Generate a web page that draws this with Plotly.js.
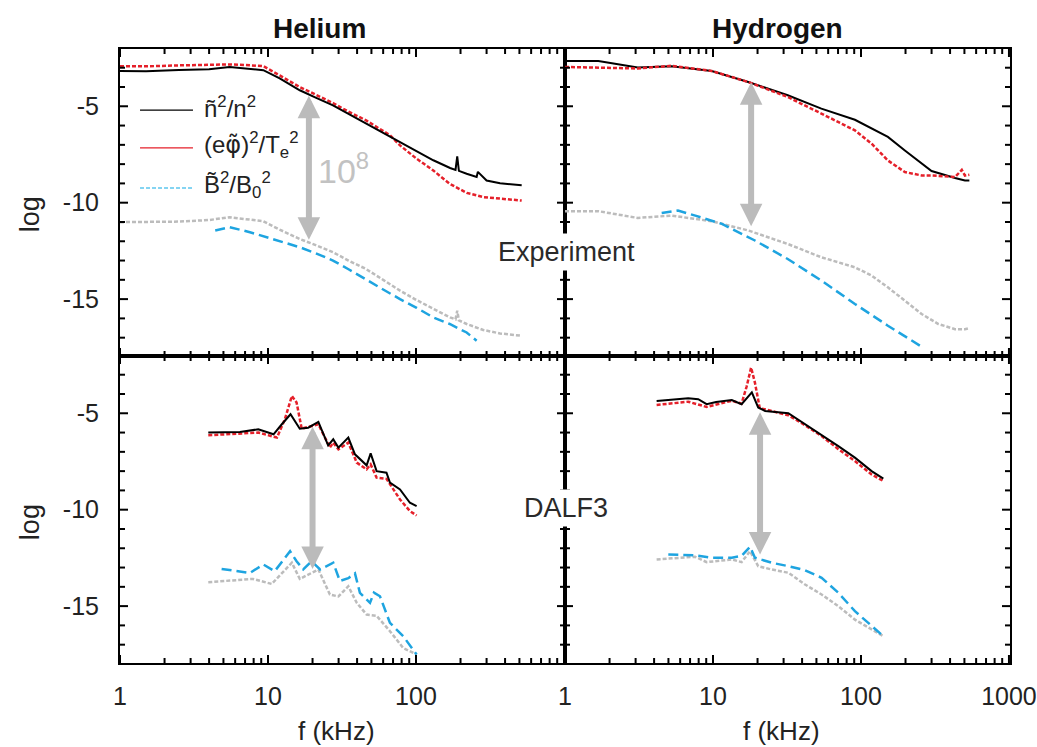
<!DOCTYPE html>
<html>
<head>
<meta charset="utf-8">
<script src="https://cdn.plot.ly/plotly-3.0.1.min.js"></script>
<style>html,body{margin:0;padding:0;background:#fff;}#chart{width:1037px;height:747px;}</style>
</head>
<body>
<div id="chart"></div>
<script>
// ---------------- DATA (log10 of normalized spectra vs f in kHz) ----------------
// Helium, Experiment
const heExpF_n   = [1, 1.5, 2.5, 4, 5.5, 7, 9.3, 12, 16.4, 21, 27.5, 35, 46, 60, 78, 100, 131, 170, 185, 190, 195, 220, 257, 262, 300, 370, 450, 518];
const heExpN     = [-3.17, -3.18, -3.12, -3.08, -2.96, -3.05, -3.13, -3.55, -4.17, -4.55, -4.95, -5.4, -5.9, -6.35, -6.85, -7.3, -7.8, -8.2, -8.3, -7.6, -8.35, -8.5, -8.67, -8.4, -8.85, -8.99, -9.05, -9.1];
const heExpF_phi = [1, 1.5, 2.5, 4, 5.5, 7, 9.3, 12, 16.4, 21, 27.5, 35, 46, 66.7, 78, 101, 131, 169, 220, 285, 370, 518];
const heExpPhi   = [-2.92, -2.93, -2.88, -2.86, -2.83, -2.86, -2.92, -3.4, -4.0, -4.4, -4.83, -5.28, -5.73, -6.5, -7.03, -7.72, -8.33, -9.02, -9.49, -9.71, -9.8, -9.89];
const heExpF_g   = [1, 2.5, 4, 5.5, 7, 9.3, 12, 16.4, 21, 27.5, 35, 46, 60, 78, 101, 131, 170, 185, 190, 195, 220, 285, 370, 518];
const heExpGray  = [-11.01, -10.98, -10.9, -10.75, -10.85, -10.96, -11.4, -11.88, -12.2, -12.57, -13.0, -13.44, -14.0, -14.56, -15.05, -15.51, -15.95, -16.05, -15.6, -16.1, -16.29, -16.6, -16.78, -16.9];
const heExpF_B   = [4.4, 5.5, 7.55, 9.8, 12.5, 16.4, 21, 27.5, 35, 46, 60, 78, 101, 131, 169, 220, 257];
const heExpB     = [-11.44, -11.27, -11.53, -11.79, -12.05, -12.31, -12.62, -13.0, -13.45, -13.96, -14.5, -15.0, -15.45, -15.95, -16.29, -16.73, -17.16];

// Hydrogen, Experiment
const hyExpF_n   = [1, 1.68, 3.1, 5.25, 9.8, 17.3, 32, 54, 91, 118, 152, 198, 257, 300, 432, 504, 540];
const hyExpN     = [-2.65, -2.65, -2.99, -2.92, -3.17, -3.74, -4.43, -5.12, -5.7, -6.16, -6.59, -7.29, -7.98, -8.36, -8.72, -8.85, -8.85];
const hyExpF_phi = [1, 1.68, 3.1, 5.25, 9.8, 17.3, 32, 54, 91, 118, 152, 198, 257, 300, 432, 480, 504, 540];
const hyExpPhi   = [-2.96, -2.99, -3.04, -2.9, -3.17, -3.74, -4.52, -5.38, -6.25, -6.94, -7.81, -8.41, -8.59, -8.59, -8.67, -8.3, -8.59, -8.55];
const hyExpF_g   = [1, 1.68, 3.1, 5.25, 9.8, 17.3, 32, 54, 91, 118, 152, 198, 257, 333, 432, 504, 540];
const hyExpGray  = [-10.44, -10.44, -10.79, -10.67, -10.96, -11.44, -12.14, -12.83, -13.35, -13.78, -14.39, -15.08, -15.77, -16.29, -16.56, -16.56, -16.5];
const hyExpF_B   = [4.5, 5.8, 7.6, 11.5, 19.2, 32, 54, 91, 152, 251];
const hyExpB     = [-10.54, -10.41, -10.67, -11.1, -11.96, -12.92, -14.04, -15.25, -16.38, -17.42];

// Helium, DALF3
const heSimF_n   = [3.95, 6.46, 8.6, 10.9, 12.4, 14.2, 16.4, 18.7, 21.9, 25.5, 27.6, 29.9, 34.9, 38.7, 46.4, 49.4, 54.2, 63.2, 66.7, 78, 91, 101];
const heSimN     = [-6.0, -5.97, -5.83, -6.09, -5.57, -5.05, -5.8, -5.75, -5.45, -6.66, -6.35, -6.78, -6.26, -7.13, -7.7, -7.08, -8.0, -8.08, -8.6, -8.95, -9.64, -9.81];
const heSimF_phi = [3.95, 6.46, 8.6, 11.5, 13.0, 14.5, 15.6, 16.9, 18.7, 21.9, 26.2, 27.6, 29.9, 34.9, 39.8, 46.4, 49.4, 54.2, 63.2, 78, 91, 101];
const heSimPhi   = [-6.14, -6.06, -6.0, -6.26, -5.31, -4.1, -4.44, -5.8, -5.7, -5.57, -6.78, -6.52, -6.87, -6.52, -7.56, -7.91, -7.65, -8.34, -8.4, -9.47, -10.07, -10.3];
const heSimF_B   = [4.86, 7.55, 9.3, 11.1, 14.1, 15.6, 17.3, 19.7, 22.5, 27.6, 30.6, 34.9, 38.7, 41.8, 48.9, 52, 57.1, 66.7, 82, 101];
const heSimB     = [-13.07, -13.28, -12.84, -13.19, -12.15, -12.67, -13.1, -12.67, -13.1, -12.75, -13.7, -13.55, -13.3, -14.31, -14.83, -14.3, -14.49, -15.87, -16.56, -17.51];
const heSimF_g   = [3.95, 7.9, 10.6, 14.5, 16.4, 21.9, 26.2, 29.9, 34.9, 39.8, 46.4, 54.2, 66.7, 82, 101];
const heSimGray  = [-13.76, -13.59, -13.85, -12.75, -13.59, -13.1, -14.4, -14.5, -13.97, -14.83, -15.44, -15.5, -16.3, -17.17, -17.51];

// Hydrogen, DALF3
const hySimF_n   = [4.16, 6.8, 7.95, 9.06, 10.5, 13.4, 15.6, 18.3, 20.2, 22.5, 32.3, 41.9, 54.2, 70.3, 91, 118, 141.6];
const hySimN     = [-4.36, -4.22, -4.27, -4.53, -4.42, -4.31, -4.53, -3.92, -4.7, -4.88, -5.0, -5.57, -6.09, -6.7, -7.3, -8.0, -8.39];
const hySimF_phi = [4.16, 6.8, 9.06, 13.4, 15.6, 16.9, 18.1, 19.2, 20.7, 32.3, 41.9, 54.2, 70.3, 91, 118, 141.6];
const hySimPhi   = [-4.57, -4.4, -4.67, -4.35, -4.5, -3.6, -2.63, -3.41, -4.73, -5.1, -5.62, -6.18, -6.86, -7.48, -8.17, -8.51];
const hySimF_B   = [4.99, 7.56, 9.8, 13.4, 15.6, 17.8, 19.2, 24.9, 32.3, 41.9, 54.2, 70.3, 91, 118, 141.6];
const hySimB     = [-12.32, -12.37, -12.49, -12.49, -12.4, -11.92, -12.49, -12.75, -12.93, -13.14, -13.53, -14.31, -15.26, -16.04, -16.56];
const hySimF_g   = [4.16, 7.56, 9.06, 13.4, 15.6, 17.8, 20.2, 24.9, 32.3, 41.9, 54.2, 70.3, 91, 118, 141.6];
const hySimGray  = [-12.58, -12.44, -12.72, -12.58, -12.72, -12.15, -12.93, -13.1, -13.27, -13.88, -14.4, -15.0, -15.7, -16.21, -16.56];

// Tick labels and texts
const xTickValsLeft  = [1, 10, 100];
const xTickValsRight = [1, 10, 100, 1000];
const yTickVals = [-5, -10, -15];
const yTickText = ['-5', '-10', '-15'];
const yMinorVals = [-3, -4, -6, -7, -8, -9, -11, -12, -13, -14, -16, -17];
const panelTitles = ['Helium', 'Hydrogen'];
const rowLabels = ['Experiment', 'DALF3'];
const legendLabels = [
  'ñ<sup>2</sup>/n<sup>2</sup>',
  '(e<span style="font-family:DejaVu Sans">φ̃</span>)<sup>2</sup>/T<sub>e</sub><sup>2</sup>',
  'B̃<sup>2</sup>/B<sub>0</sub><sup>2</sup>'
];
// double-arrow positions (f in kHz, top tip, bottom tip) for each panel
const arrows = [
  {xa: 'x',  ya: 'y',  f: 18.9, top: -4.45, bot: -12.0},
  {xa: 'x2', ya: 'y2', f: 18.1, top: -3.75, bot: -11.3},
  {xa: 'x3', ya: 'y3', f: 20.0, top: -5.7,  bot: -13.15},
  {xa: 'x4', ya: 'y4', f: 20.8, top: -4.95, bot: -12.4}
];

// ---------------- STYLES ----------------
const C_BLACK = '#000000', C_RED = '#e5202a', C_GRAY = '#bcbcbc', C_BLUE = '#1ea4e0';
const FONT = 'Liberation Sans, Arial, Helvetica, sans-serif';
const XMAX = 3.007, YMIN = -17.95, YMAX = -2.03;
const PANEL_W = 445, PANEL_H = 307; // pixel size of each panel (for tick lengths)

function tr(x, y, xa, ya, color, dash, width) {
  return {x: x, y: y, xaxis: xa, yaxis: ya, type: 'scatter', mode: 'lines', showlegend: false,
          hoverinfo: 'skip', line: {color: color, dash: dash, width: width, shape: 'linear'}};
}
const DOT = '4px,2px', DASH = '10px,5px';
const traces = [
  tr(heExpF_g, heExpGray, 'x', 'y', C_GRAY, DOT, 2.5),
  tr(heExpF_B, heExpB, 'x', 'y', C_BLUE, DASH, 2.5),
  tr(heExpF_phi, heExpPhi, 'x', 'y', C_RED, DOT, 2.5),
  tr(heExpF_n, heExpN, 'x', 'y', C_BLACK, 'solid', 2),

  tr(hyExpF_g, hyExpGray, 'x2', 'y2', C_GRAY, DOT, 2.5),
  tr(hyExpF_B, hyExpB, 'x2', 'y2', C_BLUE, DASH, 2.5),
  tr(hyExpF_n, hyExpN, 'x2', 'y2', C_BLACK, 'solid', 2),
  tr(hyExpF_phi, hyExpPhi, 'x2', 'y2', C_RED, DOT, 2.5),

  tr(heSimF_g, heSimGray, 'x3', 'y3', C_GRAY, DOT, 2.5),
  tr(heSimF_B, heSimB, 'x3', 'y3', C_BLUE, DASH, 2.5),
  tr(heSimF_phi, heSimPhi, 'x3', 'y3', C_RED, DOT, 2.5),
  tr(heSimF_n, heSimN, 'x3', 'y3', C_BLACK, 'solid', 2),

  tr(hySimF_g, hySimGray, 'x4', 'y4', C_GRAY, DOT, 2.5),
  tr(hySimF_B, hySimB, 'x4', 'y4', C_BLUE, DASH, 2.5),
  tr(hySimF_phi, hySimPhi, 'x4', 'y4', C_RED, DOT, 2.5),
  tr(hySimF_n, hySimN, 'x4', 'y4', C_BLACK, 'solid', 2)
];

const minorVals = [];
[1, 10, 100].forEach(function (d) { for (let k = 2; k <= 9; k++) minorVals.push(k * d); });

// inside tick marks on all four sides of each panel, as line segments built from the tick arrays
function tickTrace(xa, ya, xMajor) {
  const xs = [], ys = [];
  const yPerPx = (YMAX - YMIN) / PANEL_H, xPerPx = XMAX / PANEL_W;
  function xTick(v, len) {
    xs.push(v, v, null, v, v, null);
    ys.push(YMIN, YMIN + len * yPerPx, null, YMAX, YMAX - len * yPerPx, null);
  }
  function yTick(v, len) {
    xs.push(1, Math.pow(10, len * xPerPx), null, Math.pow(10, XMAX), Math.pow(10, XMAX - len * xPerPx), null);
    ys.push(v, v, null, v, v, null);
  }
  xMajor.forEach(function (v) { xTick(v, 8); });
  minorVals.forEach(function (v) { xTick(v, 5); });
  yTickVals.forEach(function (v) { yTick(v, 8); });
  yMinorVals.forEach(function (v) { yTick(v, 5); });
  return {x: xs, y: ys, xaxis: xa, yaxis: ya, type: 'scatter', mode: 'lines', showlegend: false, hoverinfo: 'skip',
          connectgaps: false, cliponaxis: false, line: {color: '#000', width: 2}};
}
traces.push(tickTrace('x', 'y', xTickValsLeft));
traces.push(tickTrace('x2', 'y2', xTickValsRight));
traces.push(tickTrace('x3', 'y3', xTickValsLeft));
traces.push(tickTrace('x4', 'y4', xTickValsRight));

function xax(domain, anchor, labels, tickvals) {
  return {type: 'log', domain: domain, anchor: anchor, range: [0, XMAX],
    showline: true, linecolor: '#000', linewidth: 2, mirror: true,
    ticks: '', tickmode: 'array', tickvals: tickvals, ticktext: tickvals.map(String),
    showticklabels: labels, ticklabelstandoff: 10,
    tickfont: {family: FONT, size: 25, color: '#222'},
    showgrid: false, zeroline: false};
}
function yax(domain, anchor, labels) {
  return {domain: domain, anchor: anchor, range: [YMIN, YMAX],
    showline: true, linecolor: '#000', linewidth: 2, mirror: true,
    ticks: '', tickmode: 'array', tickvals: yTickVals, ticktext: yTickText,
    showticklabels: labels, ticklabelstandoff: 14,
    tickfont: {family: FONT, size: 25, color: '#222'},
    showgrid: false, zeroline: false};
}

const shapes = [];
const annotations = [];
// panel titles
annotations.push({text: '<b>' + panelTitles[0] + '</b>', xref: 'paper', yref: 'paper', x: 0.2247, y: 1.034, showarrow: false,
  xanchor: 'center', yanchor: 'middle', font: {family: FONT, size: 28, color: '#111'}});
annotations.push({text: '<b>' + panelTitles[1] + '</b>', xref: 'paper', yref: 'paper', x: 0.739, y: 1.034, showarrow: false,
  xanchor: 'center', yanchor: 'middle', font: {family: FONT, size: 28, color: '#111'}});
// y titles
[0.731, 0.2296].forEach(function (yy) {
  annotations.push({text: 'log', xref: 'paper', yref: 'paper', x: -0.101, y: yy, showarrow: false, textangle: -90,
    xanchor: 'center', yanchor: 'middle', font: {family: FONT, size: 27, color: '#222'}});
});
// x titles
['x3 domain', 'x4 domain'].forEach(function (r) {
  annotations.push({text: 'f (kHz)', xref: r, yref: 'paper', x: 0.487, y: -0.111, showarrow: false,
    xanchor: 'center', yanchor: 'middle', font: {family: FONT, size: 26, color: '#222'}});
});
// row labels (white box interrupts the central divider)
annotations.push({text: rowLabels[0], xref: 'paper', yref: 'paper', x: 0.502, y: 0.669, showarrow: false,
  xanchor: 'center', yanchor: 'middle', bgcolor: '#ffffff', borderpad: 3, font: {family: FONT, size: 27, color: '#2a2a2a'}});
annotations.push({text: rowLabels[1], xref: 'paper', yref: 'paper', x: 0.501, y: 0.2524, showarrow: false,
  xanchor: 'center', yanchor: 'middle', bgcolor: '#ffffff', borderpad: 3, font: {family: FONT, size: 27, color: '#2a2a2a'}});
// arrows
arrows.forEach(function (a) {
  const lx = Math.log10(a.f);
  annotations.push({text: '', xref: a.xa, yref: a.ya, x: lx, y: a.top, axref: a.xa, ayref: a.ya, ax: lx, ay: a.bot,
    showarrow: true, arrowside: 'end+start', arrowhead: 2, startarrowhead: 2, arrowsize: 0.75, startarrowsize: 0.75,
    arrowwidth: 6, arrowcolor: '#bbbbbb', standoff: 0, startstandoff: 0});
});
// 10^8
annotations.push({text: '10<sup>8</sup>', xref: 'x domain', yref: 'y domain', x: 0.44, y: 0.612, showarrow: false,
  xanchor: 'left', yanchor: 'middle', font: {family: FONT, size: 34, color: '#c2c2c2'}});
// legend
const legY = [0.801, 0.678, 0.547];
const legStyle = [{color: '#000', dash: 'solid', width: 1.2}, {color: C_RED, dash: 'solid', width: 1.2}, {color: '#5cc6ee', dash: '4px,2px', width: 1.6}];
legY.forEach(function (yy, i) {
  shapes.push({type: 'line', xref: 'x domain', yref: 'y domain', x0: 0.045, x1: 0.164, y0: yy, y1: yy, line: legStyle[i]});
  annotations.push({text: legendLabels[i], xref: 'x domain', yref: 'y domain', x: 0.185, y: yy + 0.01, showarrow: false,
    xanchor: 'left', yanchor: 'middle', font: {family: FONT, size: 24, color: '#222'}});
});

const layout = {
  width: 1037, height: 747,
  margin: {l: 120, r: 27, t: 49, b: 84},
  paper_bgcolor: '#fff', plot_bgcolor: '#fff',
  showlegend: false,
  font: {family: FONT, color: '#222'},
  xaxis:  xax([0, 0.5], 'y',  false, xTickValsLeft),
  xaxis2: xax([0.5, 1], 'y2', false, xTickValsRight),
  xaxis3: xax([0, 0.5], 'y3', true,  xTickValsLeft),
  xaxis4: xax([0.5, 1], 'y4', true,  xTickValsRight),
  yaxis:  yax([0.5, 1], 'x',  true),
  yaxis2: yax([0.5, 1], 'x2', false),
  yaxis3: yax([0, 0.5], 'x3', true),
  yaxis4: yax([0, 0.5], 'x4', false),
  annotations: annotations,
  shapes: shapes
};

Plotly.newPlot('chart', traces, layout, {displayModeBar: false});
</script>
</body>
</html>
